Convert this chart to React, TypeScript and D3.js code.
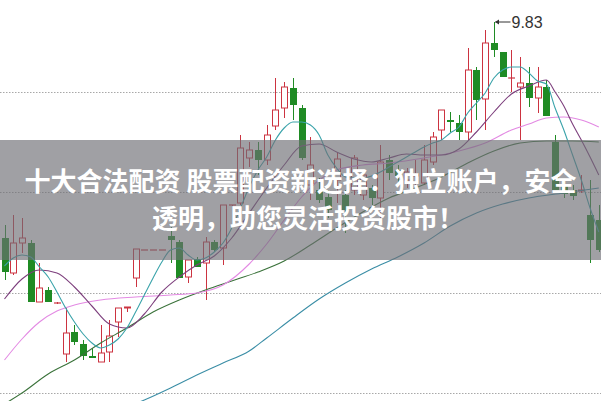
import * as d3 from 'd3';

const W = 601;
const H = 401;

// daily candles, oldest first
const opens = [
  8.75, 8.575, 8.725, 8.725, 8.43, 8.49, 8.425, 8.17, 8.28, 8.22,
  8.16, 8.13, 8.18, 8.33, 8.4, 8.55, 8.69, 8.69, 8.69, 8.76,
  8.73, 8.555, 8.645, 8.625, 8.73, 8.7, 8.915, 8.925, 9.15, 9.19,
  9.14, 9.31, 9.4, 9.5, 9.4, 9.015, 8.99, 8.955, 9.04, 8.965,
  8.99, 8.965, 9.0, 8.95, 9.14, 9.09, 9.04, 9.06, 9.025, 9.13,
  9.29, 9.34, 9.325, 9.28, 9.59, 9.445, 9.725, 9.68, 9.55, 9.505,
  9.525, 9.45, 9.505, 9.23, 9.01, 8.99, 8.985, 8.865, 8.84,
];
const closes = [
  8.58, 8.725, 8.75, 8.43, 8.5, 8.43, 8.425, 8.275, 8.23, 8.16,
  8.15, 8.175, 8.26, 8.4, 8.405, 8.695, 8.69, 8.69, 8.69, 8.74,
  8.55, 8.64, 8.605, 8.73, 8.69, 8.915, 8.915, 9.2, 9.19, 9.14,
  9.265, 9.39, 9.505, 9.415, 9.15, 9.115, 8.94, 8.89, 9.145, 8.89,
  9.15, 9.065, 8.95, 9.13, 9.075, 9.06, 9.08, 9.07, 9.14, 9.255,
  9.39, 9.33, 9.28, 9.59, 9.44, 9.725, 9.69, 9.555, 9.55, 9.525,
  9.45, 9.505, 9.36, 8.99, 8.97, 8.96, 8.99, 8.74, 8.69,
];
const highs = [
  8.815, 8.865, 8.85, 8.74, 8.625, 8.505, 8.43, 8.4, 8.315, 8.24,
  8.2, 8.315, 8.34, 8.4, 8.405, 8.695, 8.69, 8.69, 8.69, 8.805,
  8.74, 8.64, 8.655, 8.755, 8.74, 8.915, 8.915, 9.265, 9.23, 9.23,
  9.315, 9.55, 9.53, 9.55, 9.415, 9.255, 9.05, 8.99, 9.175, 8.99,
  9.165, 9.09, 9.015, 9.215, 9.165, 9.115, 9.1, 9.14, 9.215, 9.28,
  9.39, 9.38, 9.365, 9.7, 9.605, 9.79, 9.83, 9.68, 9.69, 9.655,
  9.605, 9.605, 9.54, 9.265, 9.04, 9.015, 9.065, 9.04, 8.915,
];
const lows = [
  8.54, 8.565, 8.675, 8.43, 8.43, 8.43, 8.42, 8.13, 8.215, 8.14,
  8.15, 8.13, 8.13, 8.255, 8.38, 8.505, 8.69, 8.69, 8.69, 8.625,
  8.55, 8.525, 8.605, 8.44, 8.68, 8.615, 8.91, 8.915, 9.105, 9.065,
  9.115, 9.29, 9.35, 9.34, 9.14, 8.94, 8.925, 8.85, 8.925, 8.775,
  8.965, 8.94, 8.915, 8.815, 9.04, 9.015, 9.0, 9.0, 9.015, 9.115,
  9.24, 9.28, 9.24, 9.24, 9.34, 9.29, 9.655, 9.555, 9.48, 9.24,
  9.405, 9.375, 9.36, 8.99, 8.95, 8.94, 8.975, 8.625, 8.68,
];

// moving averages: [candle index, price]
const ma5: [number, number][] = [
  [0, 8.61], [1, 8.65], [2, 8.665], [3, 8.655], [4, 8.605], [5, 8.555], [6, 8.48], [7, 8.4],
  [8, 8.33], [9, 8.27], [10, 8.225], [11, 8.2], [12, 8.215], [13, 8.245], [14, 8.3], [15, 8.38],
  [16, 8.465], [17, 8.55], [18, 8.63], [19, 8.69], [20, 8.7], [21, 8.665], [22, 8.64], [23, 8.65],
  [24, 8.68], [25, 8.725], [26, 8.8], [27, 8.9], [28, 9.005], [29, 9.09], [30, 9.155], [31, 9.24],
  [32, 9.3], [33, 9.33], [34, 9.33], [35, 9.315], [36, 9.265], [37, 9.165], [38, 9.1], [39, 9.055],
  [40, 9.05], [41, 9.05], [42, 9.06], [43, 9.08], [44, 9.105], [45, 9.13], [46, 9.155], [47, 9.18],
  [48, 9.205], [49, 9.225], [50, 9.24], [51, 9.275], [52, 9.305], [53, 9.375], [54, 9.425], [55, 9.475],
  [56, 9.55], [57, 9.59], [58, 9.605], [59, 9.605], [60, 9.575], [61, 9.535], [62, 9.52], [63, 9.4],
  [64, 9.29], [65, 9.165], [66, 9.04], [67, 8.9], [68, 8.78],
];
const ma10: [number, number][] = [
  [0, 8.445], [2, 8.545], [4, 8.59], [6, 8.575], [8, 8.505], [10, 8.41], [12, 8.32], [14, 8.3],
  [16, 8.37], [18, 8.48], [20, 8.555], [22, 8.615], [24, 8.66], [26, 8.75], [28, 8.875], [30, 9.0],
  [32, 9.115], [34, 9.21], [36, 9.22], [38, 9.18], [40, 9.145], [42, 9.13], [44, 9.15], [46, 9.17],
  [48, 9.165], [50, 9.165], [52, 9.195], [54, 9.28], [56, 9.38], [58, 9.47], [60, 9.51], [62, 9.54],
  [63, 9.48], [64, 9.41], [65, 9.32], [66, 9.24], [67, 9.155], [68, 9.065],
];
const ma20: [number, number][] = [
  [0, 8.14], [2, 8.245], [4, 8.33], [6, 8.385], [8, 8.415], [11, 8.44], [15, 8.455], [19, 8.465],
  [22, 8.475], [25, 8.515], [28, 8.62], [30, 8.72], [32, 8.84], [34, 8.955], [36, 9.04], [38, 9.09],
  [41, 9.115], [44, 9.125], [48, 9.15], [52, 9.185], [55, 9.225], [58, 9.29], [60, 9.32], [62, 9.35],
  [64, 9.355], [66, 9.34], [68, 9.305],
];
const ma60: [number, number][] = [
  [0, 7.92], [2, 7.975], [5, 8.07], [8, 8.14], [11, 8.225], [14, 8.3], [17, 8.38], [20, 8.44],
  [23, 8.49], [26, 8.535], [29, 8.58], [32, 8.635], [35, 8.715], [38, 8.8], [41, 8.88], [44, 8.95],
  [47, 9.0], [50, 9.055], [53, 9.125], [56, 9.185], [59, 9.225], [62, 9.235], [65, 9.235], [68, 9.23],
];
const ma120: [number, number][] = [
  [14, 7.905], [16, 7.94], [19, 8.0], [22, 8.065], [25, 8.125], [28, 8.185], [30, 8.25], [33, 8.35],
  [36, 8.445], [39, 8.525], [42, 8.595], [45, 8.655], [48, 8.725], [51, 8.81], [54, 8.875], [57, 8.92],
  [60, 8.95], [64, 8.975], [68, 9.0],
];

const gridPrices = [9.48, 8.98, 8.475, 7.975];
const peakLabel = '9.83';
const bannerLines = ['十大合法配资 股票配资新选择：独立账户，安全', '透明，助您灵活投资股市！'];

const RED = '#cc3340';
const GREEN = '#1f8b24';

export default function App() {
  const x = d3.scaleLinear().domain([0, opens.length - 1]).range([4.5, 598.8]);
  const y = d3.scaleLinear().domain([7.94, 9.94]).range([400, 0]);
  const line = d3
    .line<[number, number]>()
    .x((d) => x(d[0]))
    .y((d) => y(d[1]))
    .curve(d3.curveMonotoneX);

  const maList = [
    { pts: ma120, color: '#3b8ea6' },
    { pts: ma60, color: '#3a723a' },
    { pts: ma20, color: '#e38ae3' },
    { pts: ma10, color: '#7d3f7d' },
    { pts: ma5, color: '#3aa3aa' },
  ];

  const peakIdx = highs.indexOf(d3.max(highs) as number);
  const px = Math.round(x(peakIdx)) + 0.5;
  const py = y(highs[peakIdx]);

  return (
    <svg
      width={W}
      height={H}
      style={{ position: 'absolute', left: 0, top: 0, display: 'block' }}
    >
      <rect width={W} height={H} fill="#ffffff" />
      {gridPrices.map((p) => (
        <line
          key={p}
          x1={0}
          x2={W}
          y1={Math.round(y(p)) + 0.5}
          y2={Math.round(y(p)) + 0.5}
          stroke="#a8a8a8"
          strokeDasharray="1.5 1.5"
        />
      ))}

      {opens.map((o, i) => {
        const c = closes[i];
        const up = c >= o;
        const color = up ? RED : GREEN;
        const cx = Math.round(x(i)) + 0.5;
        const top = y(Math.max(o, c));
        const bot = y(Math.min(o, c));
        const hgt = Math.max(1, bot - top);
        return (
          <g key={i}>
            <line x1={cx} x2={cx} y1={y(highs[i])} y2={y(lows[i])} stroke={color} />
            {o === c ? (
              <line x1={cx - 3.5} x2={cx + 3.5} y1={top} y2={top} stroke={color} strokeWidth={1.2} />
            ) : up ? (
              <rect x={cx - 3} y={top} width={6} height={hgt} fill="#ffffff" stroke={color} />
            ) : (
              <rect x={cx - 3.5} y={top} width={7} height={hgt} fill={color} />
            )}
          </g>
        );
      })}

      {maList.map((m, i) => (
        <path key={i} d={line(m.pts) ?? ''} fill="none" stroke={m.color} strokeWidth={1.1} />
      ))}

      <g>
        <line x1={px + 1} x2={px + 16} y1={py} y2={py} stroke="#333" />
        <path d={`M${px + 0.5},${py} l4,-2.5 l0,5 z`} fill="#333" />
        <text
          x={px + 17}
          y={py + 5.5}
          fontSize={16}
          fontFamily="'Liberation Sans', Arial, sans-serif"
          fill="#333"
        >
          {peakLabel}
        </text>
      </g>

      <rect x={0} y={140} width={W} height={120} fill="rgb(110,110,116)" opacity={0.655} />
      <text
        x={24.5}
        y={191}
        fontSize={26}
        fontWeight={700}
        fontFamily="'Noto Sans CJK SC', sans-serif"
        fill="#ffffff"
      >
        {bannerLines[0]}
      </text>
      <text
        x={152}
        y={228}
        fontSize={26}
        fontWeight={700}
        fontFamily="'Noto Sans CJK SC', sans-serif"
        fill="#ffffff"
      >
        {bannerLines[1]}
      </text>
    </svg>
  );
}
